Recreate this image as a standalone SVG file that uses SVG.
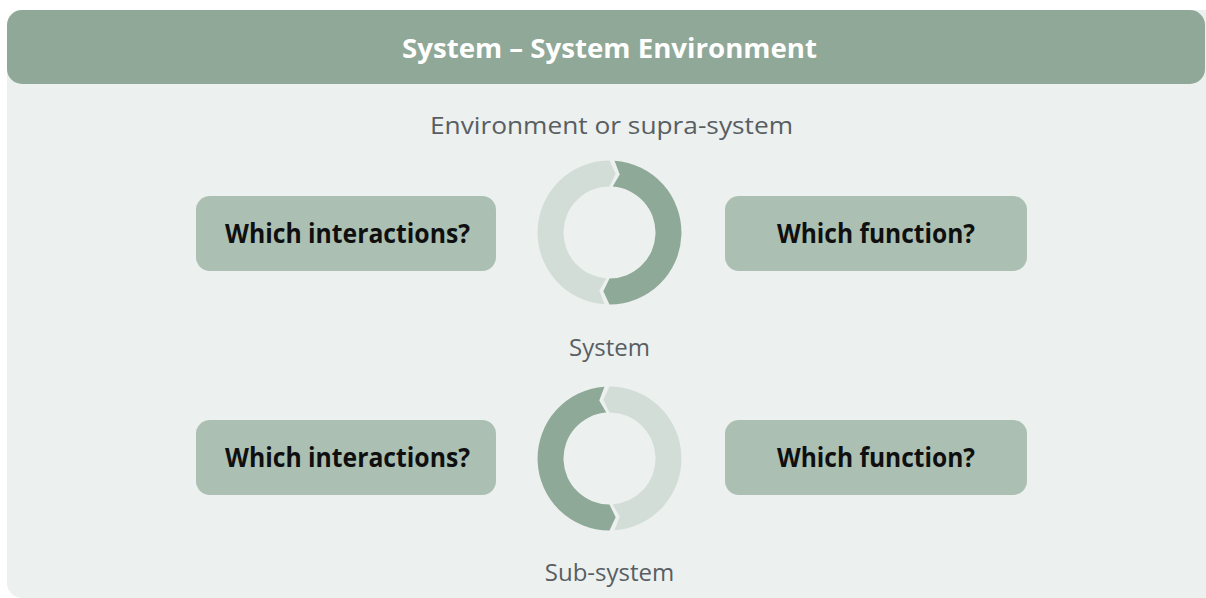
<svg xmlns="http://www.w3.org/2000/svg" width="1206" height="598" viewBox="0 0 1206 598">
  <defs>
    <style>
      .panel { fill: #ecf0ef; }
      .header { fill: #90a898; }
      .title { font-family: "Open Sans", "Noto Sans", sans-serif; font-weight: 700; font-size: 26px; fill: #ffffff; }
      .label { font-family: "Open Sans", "Noto Sans", sans-serif; font-weight: 400; font-size: 24px; fill: #585e62; }
      .box { fill: #abbfb3; }
      .boxtext { font-family: "Open Sans", "Noto Sans", sans-serif; font-weight: 700; font-size: 26px; fill: #0f0f0f; }
      .seg-dark { fill: #8fa998; }
      .seg-light { fill: #d3ddd7; }
    </style>
    <!-- two arrow-shaped arc segments forming a clockwise cycle ring -->
    <g id="cycle">
      <path class="seg-light" d="M -5.02 71.82 A 72 72 0 0 1 0 -72 L 6.17 -58.68 L 0 -46 A 46 46 0 0 0 -3.21 45.89 L -10.25 58.10 Z"/>
      <path class="seg-dark" d="M 5.02 -71.82 A 72 72 0 0 1 0 72 L -6.17 58.68 L 0 46 A 46 46 0 0 0 3.21 -45.89 L 10.25 -58.10 Z"/>
    </g>
  </defs>

  <!-- background panel and title bar -->
  <rect class="panel" x="7" y="10" width="1220" height="588" rx="15"/>
  <g id="title">
    <rect class="header" x="7" y="10" width="1198" height="74" rx="15"/>
    <text class="title" x="609.5" y="58" text-anchor="middle" textLength="415" lengthAdjust="spacingAndGlyphs">System – System Environment</text>
  </g>

  <g id="environment">
    <text class="label" x="611.5" y="134" text-anchor="middle" textLength="363" lengthAdjust="spacingAndGlyphs">Environment or supra-system</text>
  </g>

  <!-- system level -->
  <g id="system-interactions">
    <rect class="box" x="196" y="196" width="300" height="75" rx="14"/>
    <text class="boxtext" x="347.5" y="243" text-anchor="middle" textLength="245" lengthAdjust="spacingAndGlyphs">Which interactions?</text>
  </g>
  <g id="system-ring">
    <use href="#cycle" transform="translate(609.5 232.5)"/>
  </g>
  <g id="system-function">
    <rect class="box" x="725" y="196" width="302" height="75" rx="14"/>
    <text class="boxtext" x="876" y="243" text-anchor="middle" textLength="198" lengthAdjust="spacingAndGlyphs">Which function?</text>
  </g>
  <g id="system">
    <text class="label" x="609.5" y="356" text-anchor="middle">System</text>
  </g>

  <!-- sub-system level -->
  <g id="subsystem-interactions">
    <rect class="box" x="196" y="420" width="300" height="75" rx="14"/>
    <text class="boxtext" x="347.5" y="467" text-anchor="middle" textLength="245" lengthAdjust="spacingAndGlyphs">Which interactions?</text>
  </g>
  <g id="subsystem-ring">
    <use href="#cycle" transform="translate(609.5 458.5) scale(-1 1)"/>
  </g>
  <g id="subsystem-function">
    <rect class="box" x="725" y="420" width="302" height="75" rx="14"/>
    <text class="boxtext" x="876" y="467" text-anchor="middle" textLength="198" lengthAdjust="spacingAndGlyphs">Which function?</text>
  </g>
  <g id="subsystem">
    <text class="label" x="609.5" y="581" text-anchor="middle">Sub-system</text>
  </g>

  <g id="connectors"/>
</svg>
